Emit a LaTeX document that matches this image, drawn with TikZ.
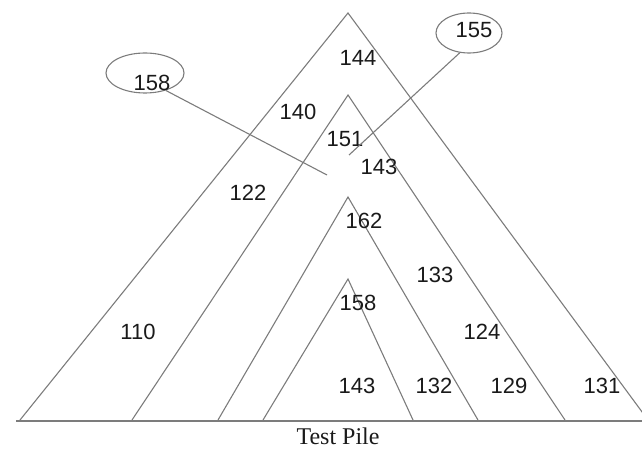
\documentclass[tikz,border=0pt]{standalone}
\usepackage{fontspec}
\setmainfont{Liberation Serif}
\newfontfamily\numfont{Liberation Sans}
\usetikzlibrary{shapes.geometric}
\definecolor{linegray}{HTML}{7C7C7C}
\definecolor{txt}{HTML}{1A1A1A}
\begin{document}
\begin{tikzpicture}[x=1pt,y=1pt,
  tri/.style={draw=linegray,line width=1.1pt,line join=miter},
  num/.style={font=\numfont\fontsize{22}{24}\selectfont,text=txt,inner sep=0pt},
  oval/.style={ellipse,draw=linegray,line width=1.1pt,inner sep=0pt},
  lead/.style={draw=linegray,line width=1.1pt},
  base/.style={draw=linegray,line width=2.8pt}]
\useasboundingbox (0,0) rectangle (642,450);
\begin{scope}
\clip (0,0) rectangle (642,450);
\draw[tri] (20,30) -- (348,437) -- (648,30);
\draw[tri] (132,30) -- (348,355) -- (565,30);
\draw[tri] (218,30) -- (348,253) -- (478,30);
\draw[tri] (263,30) -- (348,171) -- (413,30);
\draw[base] (16,29) -- (642,29);
\end{scope}
\node[num] (l144) at (358,392) {144};
\node[num] (l140) at (298,338) {140};
\node[num] (l151) at (345,311) {151};
\node[num] (l143a) at (379,283) {143};
\node[num] (l122) at (248,257) {122};
\node[num] (l162) at (364,229) {162};
\node[num] (l133) at (435,175) {133};
\node[num] (l158b) at (358,147) {158};
\node[num] (l110) at (138,118) {110};
\node[num] (l124) at (482,118) {124};
\node[num] (l143b) at (357,64) {143};
\node[num] (l132) at (434,64) {132};
\node[num] (l129) at (509,64) {129};
\node[num] (l131) at (602,64) {131};
\node[font=\fontsize{24}{26}\selectfont,text=txt,inner sep=0pt] (tp) at (338,13.5) {Test Pile};
\node[oval,minimum width=78pt,minimum height=40pt] (e158) at (145,377) {};
\node[num] (t158) at (152,367) {158};
\node[oval,minimum width=66pt,minimum height=40pt] (e155) at (469,417) {};
\node[num] (t155) at (474,420) {155};
\coordinate (p158) at (327,275);
\coordinate (p155) at (349,295);
\draw[lead] (e158.-40) -- (p158);
\draw[lead] (e155.-115) -- (p155);
\end{tikzpicture}
\end{document}
